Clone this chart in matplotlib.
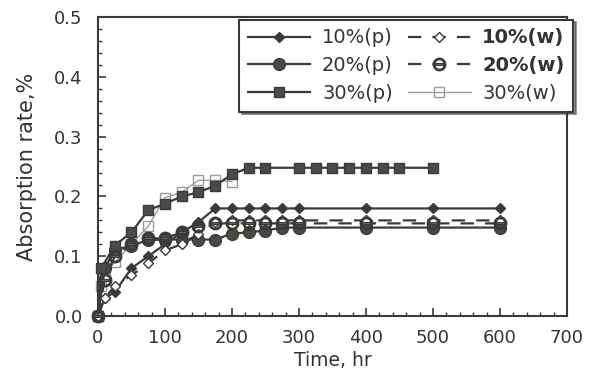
import matplotlib.pyplot as plt
from matplotlib.ticker import MultipleLocator, FormatStrFormatter

# Time points (hr) and absorption rates (%)
t_p10 = [0, 10, 25, 50, 75, 100, 125, 150, 175, 200, 225, 250, 275, 300, 400, 500, 600]
y_p10 = [0, 0.03, 0.04, 0.08, 0.10, 0.12, 0.14, 0.157, 0.18, 0.18, 0.18, 0.18, 0.18,
         0.18, 0.18, 0.18, 0.18]

t_p20 = [0, 10, 25, 50, 75, 100, 125, 150, 175, 200, 225, 250, 275, 300, 400, 500, 600]
y_p20 = [0, 0.08, 0.11, 0.118, 0.127, 0.128, 0.128, 0.128, 0.128, 0.138, 0.14, 0.143,
         0.148, 0.148, 0.148, 0.148, 0.148]

t_p30 = [0, 5, 25, 50, 75, 100, 125, 150, 175, 200, 225, 250, 300, 325, 350, 375,
         400, 425, 450, 500]
y_p30 = [0, 0.08, 0.118, 0.14, 0.177, 0.188, 0.20, 0.207, 0.218, 0.237, 0.248, 0.248,
         0.248, 0.248, 0.248, 0.248, 0.248, 0.248, 0.248, 0.248]

t_w10 = [0, 10, 25, 50, 75, 100, 125, 150, 175, 200, 225, 250, 275, 300, 400, 500, 600]
y_w10 = [0, 0.03, 0.05, 0.068, 0.088, 0.11, 0.12, 0.138, 0.157, 0.16, 0.16, 0.16, 0.16,
         0.16, 0.16, 0.16, 0.16]

t_w20 = [0, 10, 25, 50, 75, 100, 125, 150, 175, 200, 225, 250, 275, 300, 400, 500, 600]
y_w20 = [0, 0.06, 0.10, 0.12, 0.13, 0.13, 0.14, 0.15, 0.155, 0.155, 0.155, 0.155,
         0.155, 0.155, 0.155, 0.155, 0.155]

t_w30 = [0, 5, 10, 25, 50, 75, 100, 125, 150, 175, 200]
y_w30 = [0, 0.05, 0.07, 0.09, 0.12, 0.15, 0.198, 0.207, 0.227, 0.227, 0.225]

dark = "#3a3a3a"
light = "#9a9a9a"
text_col = "#333333"


def main():
    plt.rcParams["font.family"] = ["DejaVu Sans"]
    fig = plt.figure(figsize=(5.9, 3.79), dpi=100)
    ax = fig.add_axes([0.166, 0.166, 0.795, 0.789])

    # Plant (p) series: solid lines, filled markers
    h1, = ax.plot(t_p10, y_p10, "-", color=dark, lw=1.6, marker="D", ms=5.5,
                  mfc=dark, mec=dark, label="10%(p)", clip_on=False, zorder=4)
    h2, = ax.plot(t_p20, y_p20, "-", color=dark, lw=1.6, marker="o", ms=8.5,
                  mfc="#4a4a40", mec=dark, label="20%(p)", clip_on=False, zorder=3)
    h3, = ax.plot(t_p30, y_p30, "-", color=dark, lw=1.6, marker="s", ms=7.5,
                  mfc="#4a4a4a", mec=dark, label="30%(p)", clip_on=False, zorder=3)

    # Water (w) series: dashed lines, open markers
    h4, = ax.plot(t_w10, y_w10, "--", color=dark, lw=1.6, dashes=(6, 5), marker="D",
                  ms=5.5, mfc="white", mec=dark, label="10%(w)", clip_on=False, zorder=5)
    h5, = ax.plot(t_w20, y_w20, "--", color=dark, lw=1.6, dashes=(6, 5),
                  marker=r"$\ominus$", ms=9, mfc="white", mec=dark, label="20%(w)",
                  clip_on=False, zorder=5)
    h6, = ax.plot(t_w30, y_w30, "-", color=light, lw=1.0, marker="s", ms=7.5,
                  mfc="none", mec=light, label="30%(w)", clip_on=False, zorder=2)

    # Axes ranges, ticks and labels
    ax.set_xlim(0, 700)
    ax.set_ylim(0, 0.5)
    ax.xaxis.set_major_locator(MultipleLocator(100))
    ax.xaxis.set_minor_locator(MultipleLocator(20))
    ax.yaxis.set_major_locator(MultipleLocator(0.1))
    ax.yaxis.set_minor_locator(MultipleLocator(0.02))
    ax.yaxis.set_major_formatter(FormatStrFormatter("%.1f"))
    ax.tick_params(which="both", direction="in", top=False, right=False,
                   color=dark, labelsize=13, labelcolor=text_col)
    ax.tick_params(which="major", length=6, width=1.2)
    ax.tick_params(which="minor", length=3, width=1.0)
    ax.tick_params(axis="x", which="major", pad=9)
    ax.tick_params(axis="y", which="major", pad=11)
    for s in ax.spines.values():
        s.set_color(dark)
        s.set_linewidth(1.5)

    ax.set_xlabel("Time, hr", fontsize=13.5, color=text_col, labelpad=3)
    ax.set_ylabel("Absorption rate,%", fontsize=15, color=text_col, labelpad=12)

    # Legend with shadowed box, two columns
    leg = fig.legend(handles=[h1, h2, h3, h4, h5, h6], ncol=2, fontsize=14,
                     loc="upper right", bbox_to_anchor=(0.988, 0.974),
                     frameon=True, fancybox=False, shadow={"color": "#333333"},
                     edgecolor=dark, handlelength=3.2, handletextpad=0.6,
                     columnspacing=0.8, labelspacing=0.45, borderpad=0.45)
    leg.get_frame().set_linewidth(1.5)
    for txt in leg.get_texts():
        txt.set_color(text_col)
        if "(w)" in txt.get_text() and not txt.get_text().startswith("30"):
            txt.set_fontweight("bold")

    fig.savefig("out.png", dpi=100)


if __name__ == "__main__":
    main()
